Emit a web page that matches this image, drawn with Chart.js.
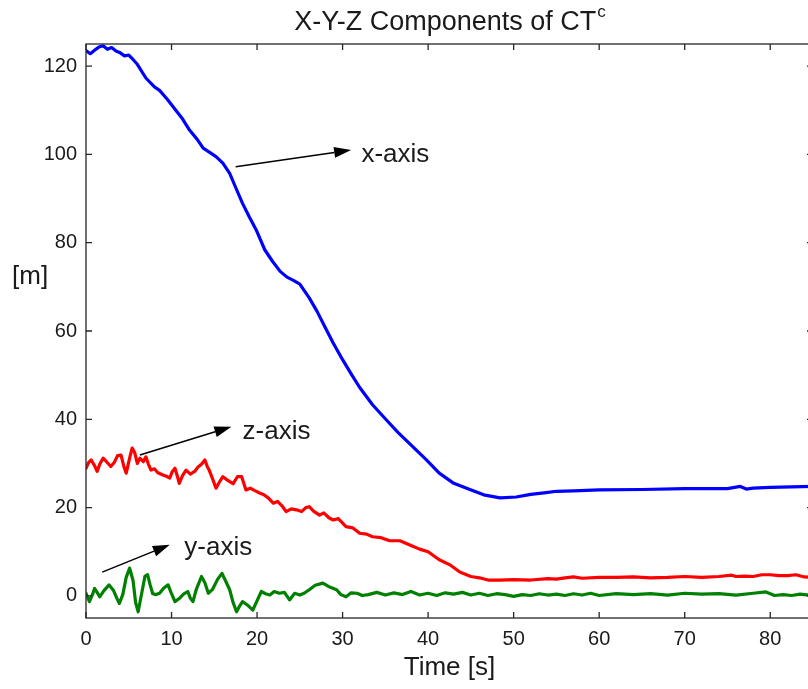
<!DOCTYPE html>
<html>
<head>
<meta charset="utf-8">
<script src="https://cdn.jsdelivr.net/npm/chart.js@4.4.0/dist/chart.umd.min.js"></script>
<style>
  html, body { margin: 0; padding: 0; background: #fff; overflow: hidden; }
  #wrap { width: 814px; height: 689px; }
</style>
</head>
<body>
<div id="wrap"><canvas id="myChart" width="814" height="689"></canvas></div>
<script>
// tick labels
var xTicks = [0, 10, 20, 30, 40, 50, 60, 70, 80];
var yTicks = [0, 20, 40, 60, 80, 100, 120];

// x-axis component (blue)
var xCompTime = [0, 0.5, 1, 1.5, 2, 2.5, 3, 3.5, 4, 4.5,
  5, 5.5, 6, 7, 8, 8.6, 9.5, 10.5, 11.3, 12.1,
  13, 13.7, 14.5, 15.2, 16, 16.8, 17.5, 18.3, 19.1, 19.9,
  20.9, 21.8, 22.7, 23.5, 24.3, 25, 26.1, 27, 28, 28.9,
  30, 31, 32, 33.5, 35.1, 36.5, 38.2, 39.8, 41.3, 43,
  44.5, 46.5, 48.4, 50.3, 52, 53.8, 55, 57, 60, 65,
  70, 75, 76.5, 77.2, 78, 80, 85];
var xCompValues = [123.5, 122.8, 123.6, 124.3, 124.6, 123.8, 124.2, 123.4, 123, 122.3,
  122.5, 121.5, 120.4, 117.3, 115.3, 114.5, 112.5, 110, 108, 105.5,
  103.4, 101.4, 100.4, 99.5, 98, 95.7, 92.5, 88.9, 85.8, 82.9,
  78.4, 75.8, 73.5, 72.2, 71.4, 70.6, 67.5, 64.5, 60.7, 57.3,
  53.5, 50.3, 47.2, 43.3, 39.9, 37, 33.8, 30.8, 27.8, 25.5,
  24.4, 22.9, 22.2, 22.4, 23, 23.4, 23.7, 23.8, 24, 24.1,
  24.3, 24.3, 24.8, 24.2, 24.4, 24.6, 24.8];

// z-axis component (red)
var zCompTime = [0, 0.3, 0.6, 1, 1.3, 1.6, 2, 2.4, 2.9, 3.3,
  3.7, 4.1, 4.4, 4.7, 5.1, 5.4, 5.7, 6, 6.3, 6.7,
  7, 7.3, 7.6, 8, 8.4, 9, 9.4, 9.8, 10.1, 10.4,
  10.7, 10.9, 11.3, 11.7, 12.2, 12.7, 13.1, 13.5, 13.9, 14.2,
  14.4, 14.8, 15.2, 15.6, 16, 16.4, 16.8, 17.2, 17.7, 18.2,
  18.7, 19.2, 19.8, 20.3, 20.8, 21.3, 21.9, 22.4, 23, 23.4,
  24, 24.6, 25.2, 25.7, 26.1, 26.6, 27.3, 27.8, 28.4, 28.9,
  29.5, 30.4, 31.2, 32, 32.8, 33.5, 34.5, 35.5, 36.7, 38,
  39, 40, 41.3, 42.5, 43.7, 45, 46, 47, 48.4, 50,
  52, 54, 55, 56, 57, 58, 60, 62, 64, 66,
  68, 70, 72, 74, 75.5, 76, 77, 78, 79, 80,
  81, 82, 83, 84, 85];
var zCompValues = [28.9, 30.2, 30.8, 29.5, 28.2, 29.8, 31.2, 30.4, 29.3, 30.2,
  31.8, 31.9, 29.5, 27.8, 31.2, 33.5, 32.4, 30, 31.2, 30.4,
  31.5, 29.8, 28.5, 28.8, 27.9, 27.4, 27.1, 26.7, 28.2, 28.9,
  27, 25.5, 27.3, 28.5, 27.6, 28.2, 29.2, 29.8, 30.8, 29.2,
  28.5, 26.5, 24.4, 25.8, 27, 26.4, 25.9, 25.4, 27, 27,
  24, 24.4, 23.8, 23.3, 22.9, 22.2, 21, 21.4, 20.2, 19.1,
  19.7, 19.5, 19.1, 20, 20.2, 19.2, 18.3, 18.8, 17.7, 17.2,
  17.5, 15.7, 15.4, 14.2, 14, 13.4, 13.2, 12.5, 12.5, 11.4,
  10.6, 10, 8.2, 7.1, 5.4, 4.4, 4.1, 3.6, 3.6, 3.7,
  3.6, 3.9, 3.8, 4.1, 4.3, 4, 4.2, 4.2, 4.3, 4.1,
  4.2, 4.4, 4.2, 4.4, 4.7, 4.4, 4.5, 4.4, 4.8, 4.8,
  4.6, 4.6, 4.8, 4.3, 4.2];

// y-axis component (green)
var yCompTime = [0, 0.4, 0.8, 1, 1.3, 1.6, 2.1, 2.7, 3.2, 3.6,
  3.9, 4.3, 4.7, 5.1, 5.5, 5.8, 6.1, 6.5, 6.9, 7.2,
  7.5, 7.8, 8.2, 8.6, 9.1, 9.6, 10, 10.4, 10.9, 11.4,
  11.9, 12.2, 12.5, 12.9, 13.5, 13.9, 14.3, 14.8, 15.4, 15.9,
  16.3, 16.8, 17.2, 17.6, 17.9, 18.3, 18.9, 19.5, 19.9, 20.5,
  21, 21.5, 22, 22.6, 23.2, 23.8, 24.4, 25, 25.5, 26.1,
  26.8, 27.7, 28.5, 29.3, 29.8, 30.4, 31, 31.7, 32.3, 33,
  34, 35, 36, 37, 38, 39, 40, 41, 42, 43,
  44, 45, 46, 47, 48, 49, 50, 51, 52, 53,
  54, 55, 56, 57, 58, 59, 60, 62, 64, 66,
  68, 70, 72, 74, 76, 78, 79.5, 80.5, 81.5, 82.5,
  83.5, 84.5, 85];
var yCompValues = [0.6, -1.3, 0.5, 1.7, 0.8, -0.2, 1.2, 2.5, 1.3, -0.5,
  -1.7, 0.3, 4.2, 6.3, 3.5, -1.5, -3.6, 0.5, 4.5, 4.8,
  2.5, 0.5, 0.3, 0.6, 1.8, 2.5, 0.5, -1.3, -0.6, 0.4,
  1, -0.5, -1.3, 1.5, 4.4, 3, 0.6, 1.5, 3.8, 5.1,
  3.5, 1.4, -1.5, -3.6, -2.5, -1.3, -2.1, -3.2, -1.5, 1,
  0.5, 0.2, 1, 0.6, 0.8, -0.9, 0.6, 0.2, 0.6, 1.4,
  2.4, 2.9, 2, 1.4, 0.3, -0.2, 0.7, 0.6, 0.1, 0.3,
  0.8, 0.2, 0.7, 0.3, 1, 0.2, 0.6, 0.1, 0.7, 0.4,
  0.8, 0.2, 0.6, 0.1, 0.5, 0.3, -0.1, 0.3, 0.1, 0.5,
  0.2, 0.4, 0.1, 0.5, 0.2, 0.6, 0.1, 0.5, 0.3, 0.5,
  0.2, 0.6, 0.4, 0.5, 0.2, 0.6, 0.9, 0.1, 0.3, 0.1,
  0.4, 0.2, 0.6];

// arrows + labels, in data units
var notes = [
  { text: 'x-axis', from: [17.5, 97.2], to: [31.0, 101.0], at: [32.2, 99.9] },
  { text: 'z-axis', from: [6.3, 31.9], to: [17.0, 38.3], at: [18.3, 37.1] },
  { text: 'y-axis', from: [1.9, 5.4], to: [9.8, 11.6], at: [11.5, 10.9] }
];

function pairs(t, v) {
  var out = [];
  for (var i = 0; i < t.length; i++) out.push({ x: t[i], y: v[i] });
  return out;
}

var FONT = "'Liberation Sans', Arial, sans-serif";
var INK = '#1a1a1a';

// box + inward ticks, title, [m] label, annotations
var decorations = {
  id: 'decorations',
  afterDatasetsDraw: function(chart) {
    var ctx = chart.ctx, a = chart.chartArea;
    var xs = chart.scales.x, ys = chart.scales.y;
    ctx.save();
    ctx.strokeStyle = '#262626';
    ctx.lineWidth = 1.3;
    ctx.strokeRect(a.left, a.top, a.right - a.left, a.bottom - a.top);
    ctx.beginPath();
    xTicks.forEach(function(v) {
      var px = xs.getPixelForValue(v);
      ctx.moveTo(px, a.bottom); ctx.lineTo(px, a.bottom - 6);
      ctx.moveTo(px, a.top); ctx.lineTo(px, a.top + 6);
    });
    yTicks.forEach(function(v) {
      var py = ys.getPixelForValue(v);
      ctx.moveTo(a.left, py); ctx.lineTo(a.left + 6, py);
      ctx.moveTo(a.right, py); ctx.lineTo(a.right - 6, py);
    });
    ctx.stroke();

    // annotations
    ctx.strokeStyle = '#000';
    ctx.fillStyle = '#000';
    ctx.lineWidth = 1.5;
    notes.forEach(function(n) {
      var x1 = xs.getPixelForValue(n.from[0]), y1 = ys.getPixelForValue(n.from[1]);
      var x2 = xs.getPixelForValue(n.to[0]), y2 = ys.getPixelForValue(n.to[1]);
      var ang = Math.atan2(y2 - y1, x2 - x1);
      var len = 17, half = 5.5;
      var bx = x2 - len * Math.cos(ang), by = y2 - len * Math.sin(ang);
      ctx.beginPath();
      ctx.moveTo(x1, y1); ctx.lineTo(bx, by);
      ctx.stroke();
      ctx.beginPath();
      ctx.moveTo(x2, y2);
      ctx.lineTo(bx + half * Math.sin(ang), by - half * Math.cos(ang));
      ctx.lineTo(bx - half * Math.sin(ang), by + half * Math.cos(ang));
      ctx.closePath();
      ctx.fill();
      ctx.font = '26px ' + FONT;
      ctx.fillStyle = INK;
      ctx.textAlign = 'left';
      ctx.textBaseline = 'middle';
      ctx.fillText(n.text, xs.getPixelForValue(n.at[0]), ys.getPixelForValue(n.at[1]));
      ctx.fillStyle = '#000';
    });

    // title with superscript c
    var main = 'X-Y-Z Components of CT', sup = 'c';
    ctx.fillStyle = INK;
    ctx.textBaseline = 'alphabetic';
    ctx.textAlign = 'left';
    ctx.font = '27px ' + FONT;
    var w1 = ctx.measureText(main).width;
    ctx.font = '17px ' + FONT;
    var w2 = ctx.measureText(sup).width;
    var cx = (a.left + a.right) / 2;
    var sx = cx - (w1 + w2) / 2;
    ctx.font = '27px ' + FONT;
    ctx.fillText(main, sx, 30);
    ctx.font = '17px ' + FONT;
    ctx.fillText(sup, sx + w1 + 1, 17);

    // y label
    ctx.font = '26px ' + FONT;
    ctx.textBaseline = 'middle';
    ctx.fillText('[m]', 12, 277);
    ctx.restore();
  }
};

var ctx = document.getElementById('myChart').getContext('2d');
var myChart = new Chart(ctx, {
  type: 'line',
  data: {
    datasets: [{
      label: 'x-axis',
      data: pairs(xCompTime, xCompValues),
      borderColor: 'rgb(0, 0, 255)'
    }, {
      label: 'z-axis',
      data: pairs(zCompTime, zCompValues),
      borderColor: 'rgb(255, 0, 0)'
    }, {
      label: 'y-axis',
      data: pairs(yCompTime, yCompValues),
      borderColor: 'rgb(0, 128, 0)'
    }]
  },
  options: {
    responsive: false,
    animation: false,
    devicePixelRatio: 1,
    layout: { padding: { top: 44, right: 1, left: 0, bottom: 0 } },
    elements: {
      line: { borderWidth: 3.2, tension: 0, borderJoinStyle: 'round', borderCapStyle: 'round' },
      point: { radius: 0 }
    },
    plugins: {
      legend: { display: false },
      title: { display: false },
      tooltip: { enabled: false }
    },
    scales: {
      x: {
        type: 'linear',
        min: 0,
        max: 85,
        afterFit: function(s) { s.height = 71; },
        afterBuildTicks: function(s) { s.ticks = xTicks.map(function(v) { return { value: v }; }); },
        grid: { display: false, drawTicks: false },
        border: { display: false },
        ticks: { color: INK, padding: 9, maxRotation: 0, font: { family: FONT, size: 20 } },
        title: { display: true, text: 'Time [s]', color: INK, padding: { top: 0, bottom: 6 }, font: { family: FONT, size: 26 } }
      },
      y: {
        min: -5,
        max: 125,
        afterFit: function(s) { s.width = 86; },
        afterBuildTicks: function(s) { s.ticks = yTicks.map(function(v) { return { value: v }; }); },
        grid: { display: false, drawTicks: false },
        border: { display: false },
        ticks: { color: INK, padding: 9, font: { family: FONT, size: 20 } }
      }
    }
  },
  plugins: [decorations]
});
</script>
</body>
</html>
